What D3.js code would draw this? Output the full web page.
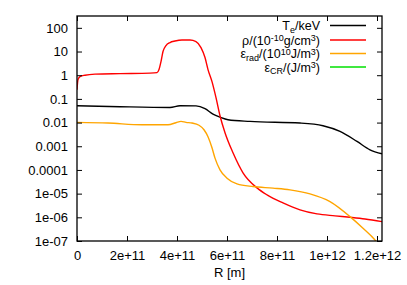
<!DOCTYPE html>
<html><head><meta charset="utf-8">
<script src="https://cdn.jsdelivr.net/npm/d3@7"></script>
<style>
body{margin:0;background:#fff;}
text{font-family:"Liberation Sans",Arial,sans-serif;font-size:13px;fill:#000;}
</style></head>
<body><svg id="c" width="407" height="285"></svg>
<script>
// R values in units of 1e11 m
const teR   = [0,1.72,3.72,4.12,4.76,5.12,5.44,5.72,6.04,6.92,8.92,9.84,10.52,11.2,11.72,12.2];
const teV   = [0.0517,0.0469,0.0436,0.0515,0.0505,0.0386,0.0226,0.0169,0.0132,0.0112,0.00958,0.00736,0.00423,0.0016,7.1e-4,4.8e-4];
const rhoR  = [0,0.04,0.12,0.32,0.72,1.72,2.92,3.2,3.28,3.36,3.44,3.56,3.72,3.92,4.2,4.52,4.76,4.96,5.12,5.24,5.4,5.56,5.72,5.92,6.24,6.64,7.2,7.6,8.24,8.92,9.6,10.32,10.92,11.52,12.2];
const rhoV  = [0.246,0.65,0.87,1.0,1.11,1.17,1.23,1.29,1.73,3.76,10,17.9,24,27.7,30.6,30.6,26.4,14.7,5.56,1.73,0.536,0.113,0.0195,0.00372,5.3e-4,7.56e-5,1.75e-5,8.86e-6,4.06e-6,2.06e-6,1.39e-6,1.15e-6,1.0e-6,8.5e-7,6.56e-7];
const radR  = [0,1.24,2.6,3.64,3.96,4.16,4.36,4.6,4.88,5.08,5.24,5.4,5.52,5.72,6.0,6.4,7.04,7.84,8.52,9.32,10.12,10.92,11.44,11.92,12.04];
const radV  = [0.0102,0.00958,0.0081,0.0081,0.00986,0.0112,0.0102,0.00958,0.00773,0.00499,0.00252,8.6e-4,3.16e-4,1.01e-4,4.5e-5,2.59e-5,1.99e-5,1.7e-5,1.44e-5,9.76e-6,4.6e-6,1.07e-6,3.45e-7,1.1e-7,7.5e-8];
const crR   = [];
const crV   = [];
const xTicks = [0,2e11,4e11,6e11,8e11,1e12,1.2e12];
const xTickLabels = ["0","2e+11","4e+11","6e+11","8e+11","1e+12","1.2e+12"];
const yTicks = [100,10,1,0.1,0.01,0.001,0.0001,1e-5,1e-6,1e-7];
const yTickLabels = ["100","10","1","0.1","0.01","0.001","0.0001","1e-05","1e-06","1e-07"];
const colors = ["#000000","#ff0000","#ffa500","#00e000"];

const svg = d3.select("#c");
const L=77,R=382,T=16,B=241;
const x = d3.scaleLinear().domain([0,1.22e12]).range([L,R]);
const y = d3.scaleLog().domain([1e-7,Math.pow(10,2.5)]).range([B,T]);

svg.append("defs").append("clipPath").attr("id","cp").append("rect")
  .attr("x",L).attr("y",T).attr("width",R-L).attr("height",B-T);

const series = [
  {r:teR,v:teV},{r:rhoR,v:rhoV},{r:radR,v:radV},{r:crR,v:crV}
];
const line = d3.line().x(d=>x(d[0]*1e11)).y(d=>y(d[1])).curve(d3.curveMonotoneX);
const g = svg.append("g").attr("clip-path","url(#cp)");
series.forEach((s,i)=>{
  if(!s.r.length) return;
  g.append("path").datum(s.r.map((r,j)=>[r,s.v[j]]))
   .attr("d",line).attr("fill","none").attr("stroke",colors[i]).attr("stroke-width",1.4);
});

// axes (inward ticks, mirrored)
const tl=5;
const ax = svg.append("g");
const xb = d3.axisBottom(x).tickValues(xTicks).tickFormat((d,i)=>xTickLabels[i]).tickSizeInner(-tl).tickSizeOuter(0).tickPadding(10);
ax.append("g").attr("transform",`translate(0,${B})`).call(xb);
const xt = d3.axisTop(x).tickValues(xTicks).tickFormat("").tickSizeInner(-tl).tickSizeOuter(0);
ax.append("g").attr("transform",`translate(0,${T})`).call(xt);
const yl = d3.axisLeft(y).tickValues(yTicks).tickFormat((d,i)=>yTickLabels[i]).tickSizeInner(-tl).tickSizeOuter(0).tickPadding(9);
ax.append("g").attr("transform",`translate(${L},0)`).call(yl);
const yr = d3.axisRight(y).tickValues(yTicks).tickFormat("").tickSizeInner(-tl).tickSizeOuter(0);
ax.append("g").attr("transform",`translate(${R},0)`).call(yr);
ax.selectAll(".domain").remove();
ax.selectAll("text").style("font-family","'Liberation Sans',Arial,sans-serif").style("font-size","13px").attr("fill","#000");
ax.selectAll("line").attr("stroke","#000");
svg.append("rect").attr("x",L).attr("y",T).attr("width",R-L).attr("height",B-T)
  .attr("fill","none").attr("stroke","#000").attr("stroke-width",1.3);

svg.append("text").attr("x",(L+R)/2).attr("y",277).attr("text-anchor","middle").text("R [m]");

// legend
const legY=[25.5,40,53.5,67];
const legParts=[
  [["T",0],["e",-1],["/keV",0]],
  [["ρ/(10",0],["-10",1],["g/cm",0],["3",1],[")",0]],
  [["ε",0],["rad",-1],["/(10",0],["10",1],["J/m",0],["3",1],[")",0]],
  [["ε",0],["CR",-1],["/(J/m",0],["3",1],[")",0]]
];
legParts.forEach((parts,i)=>{
  const t=svg.append("text").attr("x",320).attr("y",legY[i]+4.5).attr("text-anchor","end").style("font-size","12.5px");
  let prev=0;
  parts.forEach(p=>{
    const off = p[1]===1? -3.5 : p[1]===-1? 2.5 : 0;
    t.append("tspan").attr("dy",off-prev).style("font-size",p[1]===0?"12.5px":"9px").text(p[0]);
    prev = off;
  });
  svg.append("line").attr("x1",330).attr("x2",366).attr("y1",legY[i]).attr("y2",legY[i])
    .attr("stroke",colors[i]).attr("stroke-width",1.4);
});
</script></body></html>
